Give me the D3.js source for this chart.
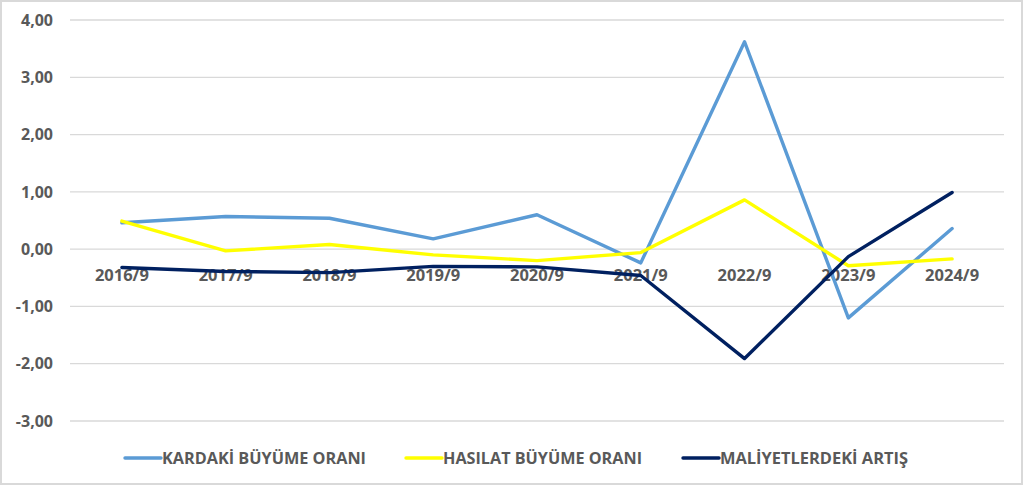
<!DOCTYPE html>
<html>
<head>
<meta charset="utf-8">
<script src="https://cdn.jsdelivr.net/npm/d3@7"></script>
<style>
  html, body { margin: 0; padding: 0; background: #fff; }
  svg { display: block; }
</style>
</head>
<body>
<svg id="chart"></svg>
<script>
const years = ['2016/9', '2017/9', '2018/9', '2019/9', '2020/9', '2021/9', '2022/9', '2023/9', '2024/9'];
const kardaki = [0.46, 0.57, 0.54, 0.18, 0.60, -0.24, 3.62, -1.20, 0.36];
const hasilat = [0.49, -0.03, 0.08, -0.10, -0.20, -0.06, 0.86, -0.29, -0.17];
const maliyet = [-0.32, -0.39, -0.41, -0.30, -0.31, -0.46, -1.91, -0.13, 0.99];
const yTicks = [-3, -2, -1, 0, 1, 2, 3, 4];

const seriesNames = ['KARDAKİ BÜYÜME ORANI', 'HASILAT BÜYÜME ORANI', 'MALİYETLERDEKİ ARTIŞ'];
const seriesColors = ['#5B9BD5', '#FFFF00', '#002060'];

const series = [kardaki, hasilat, maliyet].map((vals, i) => ({
    name: seriesNames[i],
    color: seriesColors[i],
    values: vals.map((v, j) => ({ year: years[j], v }))
}));

const width = 1024;
const height = 486;
const font = '"Open Sans", "DejaVu Sans", sans-serif';

const svg = d3.select('#chart')
    .attr('width', width)
    .attr('height', height);

// chart frame
svg.append('rect')
    .attr('x', 1)
    .attr('y', 1)
    .attr('width', width - 3)
    .attr('height', height - 3)
    .attr('fill', '#fff')
    .attr('stroke', '#d9d9d9')
    .attr('stroke-width', 2);

const x = d3.scalePoint()
    .domain(years)
    .range([70, 1004])
    .padding(0.5);

const y = d3.scaleLinear()
    .domain([-3, 4])
    .range([421, 20]);

const fmt = v => d3.format('.2f')(v).replace('.', ',').replace('−', '-');

// gridlines
svg.append('g')
    .selectAll('line')
    .data(yTicks)
    .enter().append('line')
    .attr('x1', 70)
    .attr('x2', 1004)
    .attr('y1', d => y(d))
    .attr('y2', d => y(d))
    .attr('stroke', '#d9d9d9')
    .attr('stroke-width', 1.3);

// y labels
svg.append('g')
    .selectAll('text')
    .data(yTicks)
    .enter().append('text')
    .attr('x', 53)
    .attr('y', d => y(d))
    .attr('dy', '0.36em')
    .attr('text-anchor', 'end')
    .attr('font-family', font)
    .attr('font-weight', 'bold')
    .attr('font-size', 16)
    .attr('fill', '#595959')
    .text(fmt);

// category labels sit just under the zero line
svg.append('g')
    .selectAll('text')
    .data(years)
    .enter().append('text')
    .attr('x', d => x(d))
    .attr('y', y(0) + 31.5)
    .attr('text-anchor', 'middle')
    .attr('font-family', font)
    .attr('font-weight', 'bold')
    .attr('font-size', 16.5)
    .attr('fill', '#595959')
    .text(d => d);

const line = d3.line()
    .x(d => x(d.year))
    .y(d => y(d.v));

svg.append('g')
    .selectAll('path')
    .data(series)
    .enter().append('path')
    .attr('d', d => line(d.values))
    .attr('fill', 'none')
    .attr('stroke', d => d.color)
    .attr('stroke-width', 3.4)
    .attr('stroke-linejoin', 'round')
    .attr('stroke-linecap', 'round');

// legend
const legendX = [125, 406, 683];
const legendW = [204, 199, 188];
const legend = svg.append('g')
    .selectAll('g')
    .data(series)
    .enter().append('g')
    .attr('transform', (d, i) => `translate(${legendX[i]},458)`);

legend.append('line')
    .attr('x1', 0)
    .attr('x2', 36)
    .attr('stroke', d => d.color)
    .attr('stroke-width', 3.4)
    .attr('stroke-linecap', 'round');

legend.append('text')
    .attr('x', 37)
    .attr('dy', '0.36em')
    .attr('font-family', font)
    .attr('font-weight', 'bold')
    .attr('font-size', 16)
    .attr('fill', '#595959')
    .attr('textLength', (d, i) => legendW[i])
    .attr('lengthAdjust', 'spacingAndGlyphs')
    .text(d => d.name);
</script>
</body>
</html>
